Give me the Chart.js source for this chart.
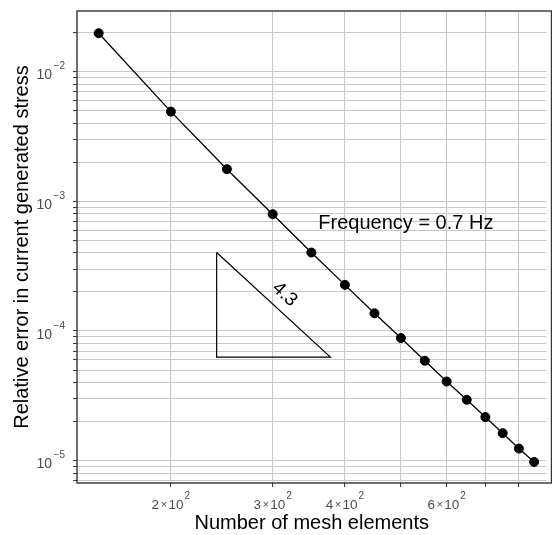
<!DOCTYPE html>
<html><head><meta charset="utf-8">
<script src="https://cdn.jsdelivr.net/npm/chart.js@4.4.0/dist/chart.umd.min.js"></script>
<style>html,body{margin:0;padding:0;background:#fff;}canvas{display:block;}</style>
</head><body>
<canvas id="c" width="552" height="535"></canvas>
<script>
// ---- data ----
const meshElements = [150, 200, 250, 300, 350, 400, 450, 500, 550, 600, 650, 700, 750, 800, 850];
const relativeError = [0.0198, 4.92e-3, 1.77e-3, 7.96e-4, 4.03e-4, 2.27e-4, 1.37e-4, 8.83e-5,
                       5.90e-5, 4.08e-5, 2.95e-5, 2.17e-5, 1.63e-5, 1.24e-5, 9.77e-6];
const triangleX = [240, 240, 377.6, 240];
const triangleY = [4.03e-4, 6.29e-5, 6.29e-5, 4.03e-4];
const slopeLabel = '4.3';
const slopeLabelAt = [314.5, 1.92e-4];
const freqLabel = 'Frequency = 0.7 Hz';
const freqLabelAt = [510, 6.8e-4];
const xRange = [137.6, 893];
const yRange = [6.73e-6, 0.02936];
const xGridValues = [200, 300, 400, 500, 600, 700, 800];
const yGridDecades = [1e-6, 1e-5, 1e-4, 1e-3, 1e-2];
const yGridMultipliers = [1, 2, 3, 4, 5, 6, 7, 8, 9];
const xTickValues = [200, 300, 400, 600];
const xTickLabels = [['2', '10', '2'], ['3', '10', '2'], ['4', '10', '2'], ['6', '10', '2']];
const yTickValues = [1e-5, 1e-4, 1e-3, 1e-2];
const yTickLabels = [['10', '\u22125'], ['10', '\u22124'], ['10', '\u22123'], ['10', '\u22122']];
const xTitle = 'Number of mesh elements';
const yTitle = 'Relative error in current generated stress';

const FAMILY = '"Liberation Sans", Arial, Helvetica, sans-serif';
const yGridValues = [];
yGridDecades.forEach(d => yGridMultipliers.forEach(m => {
  const v = d * m;
  if (v >= yRange[0] && v <= yRange[1]) yGridValues.push(v);
}));

const labelPlugin = {
  id: 'labels',
  afterDraw(chart) {
    const ctx = chart.ctx;
    const xs = chart.scales.x, ys = chart.scales.y;
    const a = chart.chartArea;
    ctx.save();
    // panel border
    ctx.strokeStyle = '#333333';
    ctx.lineWidth = 1.4;
    ctx.strokeRect(a.left, a.top, a.right - a.left + 5, a.bottom - a.top);

    const MAIN = '14px ' + FAMILY;
    const SUP = '10px ' + FAMILY;
    ctx.fillStyle = '#4d4d4d';
    ctx.textBaseline = 'alphabetic';
    // y tick labels
    yTickValues.forEach((v, i) => {
      const py = ys.getPixelForValue(v);
      const [b, e] = yTickLabels[i];
      const right = a.left - 12;
      ctx.textAlign = 'right';
      ctx.font = SUP;
      const we = ctx.measureText(e).width;
      ctx.fillText(e, right, py - 2.5);
      ctx.font = MAIN;
      ctx.fillText(b, right - we - 1.5, py + 7.5);
    });
    // x tick labels
    const XMAIN = '13.5px ' + FAMILY;
    const XTIMES = '11px ' + FAMILY;
    xTickValues.forEach((v, i) => {
      const px = xs.getPixelForValue(v);
      const [m, b, e] = xTickLabels[i];
      ctx.font = XMAIN;
      const wm = ctx.measureText(m).width, wb = ctx.measureText(b).width;
      ctx.font = XTIMES;
      const wt = ctx.measureText('\u00d7').width;
      ctx.font = SUP;
      const we = ctx.measureText(e).width;
      const gap = 1.5;
      const total = wm + gap + wt + gap + wb + 1 + we;
      let x0 = px - total / 2;
      const base = a.bottom + 25.5;
      ctx.textAlign = 'left';
      ctx.font = XMAIN; ctx.fillText(m, x0, base); x0 += wm + gap;
      ctx.font = XTIMES; ctx.fillText('\u00d7', x0, base - 0.5); x0 += wt + gap;
      ctx.font = XMAIN; ctx.fillText(b, x0, base); x0 += wb + 1;
      ctx.font = SUP; ctx.fillText(e, x0, base - 10);
    });

    // annotations
    ctx.fillStyle = '#000';
    ctx.font = '20px ' + FAMILY;
    ctx.textAlign = 'center';
    ctx.textBaseline = 'middle';
    ctx.fillText(freqLabel, xs.getPixelForValue(freqLabelAt[0]), ys.getPixelForValue(freqLabelAt[1]));

    const x1 = xs.getPixelForValue(triangleX[0]), y1 = ys.getPixelForValue(triangleY[0]);
    const x2 = xs.getPixelForValue(triangleX[2]), y2 = ys.getPixelForValue(triangleY[2]);
    const ang = Math.atan2(y2 - y1, x2 - x1);
    ctx.translate(xs.getPixelForValue(slopeLabelAt[0]), ys.getPixelForValue(slopeLabelAt[1]));
    ctx.rotate(ang);
    ctx.font = '19px ' + FAMILY;
    ctx.fillText(slopeLabel, 0, 0);
    ctx.restore();
  }
};

const gridOpts = { color: '#c8c8c8', lineWidth: 1.1, drawTicks: true, tickLength: 4, tickColor: '#333333', tickWidth: 1 };

new Chart(document.getElementById('c'), {
  type: 'scatter',
  data: {
    datasets: [
      {
        data: meshElements.map((x, i) => ({ x: x, y: relativeError[i] })),
        showLine: true, borderColor: '#000', borderWidth: 1.3,
        pointRadius: 4.5, pointBorderWidth: 1, pointBackgroundColor: '#000', pointBorderColor: '#000'
      },
      {
        data: triangleX.map((x, i) => ({ x: x, y: triangleY[i] })),
        showLine: true, borderColor: '#000', borderWidth: 1.2, pointRadius: 0, fill: false
      }
    ]
  },
  options: {
    responsive: false, animation: false, devicePixelRatio: 1,
    layout: { padding: { top: 11, right: 0, bottom: 0, left: 0 } },
    plugins: { legend: { display: false }, tooltip: { enabled: false } },
    scales: {
      x: {
        type: 'logarithmic', min: xRange[0], max: xRange[1],
        afterBuildTicks: s => { s.ticks = xGridValues.map(v => ({ value: v })); },
        afterFit: s => { s.height = 52; },
        ticks: { display: false },
        grid: gridOpts,
        border: { display: false },
        title: { display: true, text: xTitle, color: '#000', font: { family: FAMILY, size: 20, lineHeight: 1.2 }, padding: { top: 0, bottom: 0 } }
      },
      y: {
        type: 'logarithmic', min: yRange[0], max: yRange[1],
        afterBuildTicks: s => { s.ticks = yGridValues.map(v => ({ value: v })); },
        afterFit: s => { s.width = 77; },
        ticks: { display: false },
        grid: gridOpts,
        border: { display: false },
        title: { display: true, text: yTitle, color: '#000', font: { family: FAMILY, size: 20, lineHeight: 1.2 }, padding: { top: 10.5, bottom: 0 } }
      }
    }
  },
  plugins: [labelPlugin]
});
</script>
</body></html>
